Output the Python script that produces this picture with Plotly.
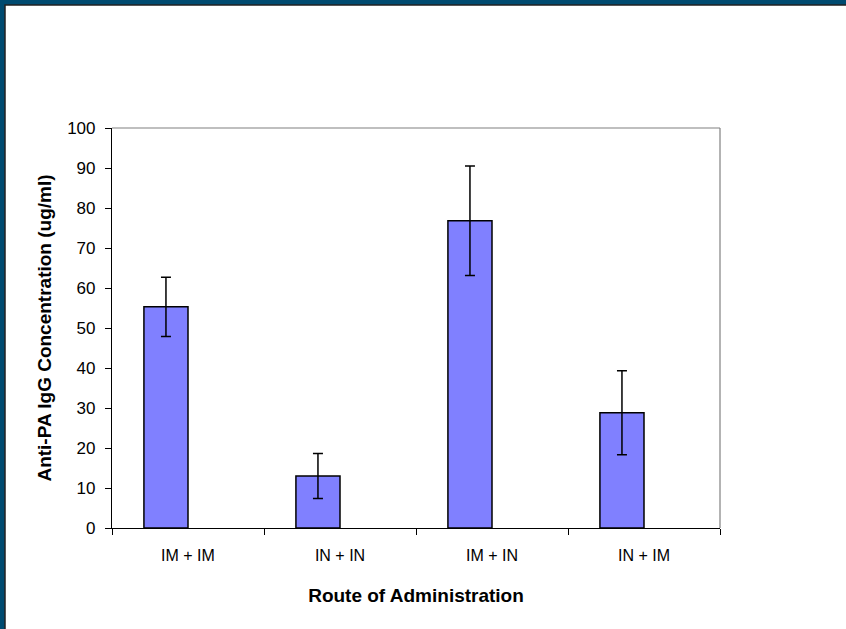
import plotly.graph_objects as go

categories = ["IM + IM", "IN + IN", "IM + IN", "IN + IM"]
means = [55.3, 13.0, 76.8, 28.8]
errors = [7.4, 5.6, 13.7, 10.5]
y_ticks = [0, 10, 20, 30, 40, 50, 60, 70, 80, 90, 100]

FONT = "Liberation Sans, Arial, sans-serif"
NAVY = "#004A70"

fig = go.Figure()
fig.add_trace(go.Bar(
    x=categories, y=means,
    width=0.29, offset=-0.29,
    marker=dict(color="#8080FF", line=dict(color="black", width=1.5)),
    error_y=dict(type="data", array=errors, visible=True, color="black",
                 thickness=1.5, width=5),
    showlegend=False,
))

W, H = 846, 629
L, R, T, B = 112, 126, 128, 101
pw, ph = W - L - R, H - T - B

def px(xp):
    return (xp - L) / pw

def py(yp):
    return (H - B - yp) / ph

fig.update_layout(
    width=W, height=H,
    margin=dict(l=L, r=R, t=T, b=B, autoexpand=False),
    paper_bgcolor=NAVY,
    plot_bgcolor="white",
    font=dict(family=FONT, size=17, color="black"),
    shapes=[
        dict(type="rect", xref="paper", yref="paper",
             x0=px(5), x1=px(W + 5), y0=py(H + 5), y1=py(5),
             fillcolor="white", line=dict(color="#222222", width=1.5),
             layer="below"),
        dict(type="line", xref="paper", yref="paper", x0=0, x1=1, y0=1, y1=1,
             line=dict(color="#808080", width=1.2), layer="above"),
        dict(type="line", xref="paper", yref="paper", x0=1, x1=1, y0=0, y1=1,
             line=dict(color="#808080", width=1.2), layer="above"),
    ],
)

fig.update_xaxes(
    type="category",
    showline=True, linecolor="black", linewidth=1.2,
    ticks="outside", ticklen=6, tickcolor="black", tickwidth=1,
    tickson="boundaries",
    showgrid=False, zeroline=False,
    tickfont=dict(family=FONT, size=16),
    ticklabelstandoff=13,
    title=dict(text="<b>Route of Administration</b>", font=dict(family=FONT, size=19),
               standoff=25),
)
fig.update_yaxes(
    range=[0, 100], tickvals=y_ticks,
    showline=True, linecolor="black", linewidth=1.2,
    ticks="outside", ticklen=6, tickcolor="black", tickwidth=1,
    showgrid=False, zeroline=False,
    tickfont=dict(family=FONT, size=17),
    ticklabelstandoff=6,
    title=dict(text="<b>Anti-PA IgG Concentration (ug/ml)</b>",
               font=dict(family=FONT, size=19), standoff=10),
)

fig.write_html(
    "out.html",
    config={"displayModeBar": False},
    post_script="document.body.style.margin='0';document.body.style.overflow='hidden';",
)
